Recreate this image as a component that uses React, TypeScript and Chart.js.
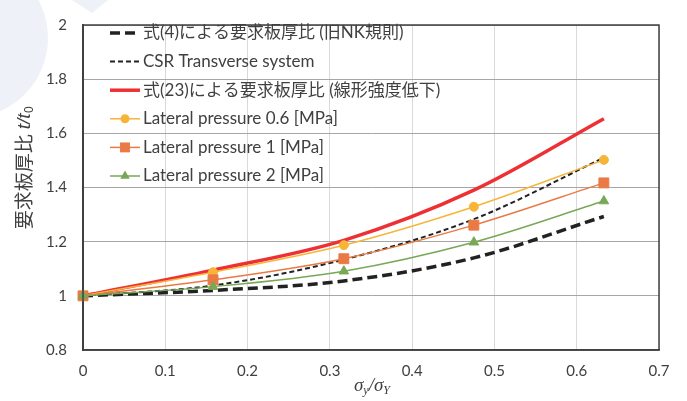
import React, { useEffect, useRef } from "react";
import { Chart, registerables } from "chart.js";

Chart.register(...registerables);

// ---- data ----
const sigmaRatio = [0, 0.158, 0.317, 0.475, 0.633];
const oldNK = [1.0, 1.02, 1.055, 1.14, 1.293];
const csrTransverse = [1.0, 1.038, 1.134, 1.283, 1.51];
const eq23 = [1.0, 1.095, 1.205, 1.39, 1.654];
const pressure06 = [1.0, 1.087, 1.187, 1.329, 1.502];
const pressure1 = [1.0, 1.059, 1.137, 1.261, 1.417];
const pressure2 = [1.0, 1.034, 1.091, 1.198, 1.35];

const seriesLabels = [
  "式(4)による要求板厚比 (旧NK規則)",
  "CSR Transverse system",
  "式(23)による要求板厚比 (線形強度低下)",
  "Lateral pressure 0.6 [MPa]",
  "Lateral pressure 1 [MPa]",
  "Lateral pressure 2 [MPa]",
];

const xMin = 0, xMax = 0.7, xStep = 0.1;
const yMin = 0.8, yMax = 2, yStep = 0.2;

const FONT = "Lato, 'Noto Sans CJK JP', sans-serif";
const TEXT = "#404040";

const pts = (ys: number[]) => ys.map((y, i) => ({ x: sigmaRatio[i], y }));

function drawMarker(ctx: CanvasRenderingContext2D, style: string, x: number, y: number, r: number) {
  ctx.beginPath();
  if (style === "circle") {
    ctx.arc(x, y, r, 0, Math.PI * 2);
  } else if (style === "rect") {
    const s = Math.SQRT1_2 * r;
    ctx.rect(x - s, y - s, 2 * s, 2 * s);
  } else if (style === "triangle") {
    ctx.moveTo(x, y - r);
    ctx.lineTo(x + Math.sin((2 * Math.PI) / 3) * r, y - Math.cos((2 * Math.PI) / 3) * r);
    ctx.lineTo(x + Math.sin((4 * Math.PI) / 3) * r, y - Math.cos((4 * Math.PI) / 3) * r);
    ctx.closePath();
  }
  ctx.fill();
}

const decorPlugin = {
  id: "decor",
  beforeDraw(chart: any) {
    const ctx = chart.ctx;
    ctx.save();
    ctx.fillStyle = "#ffffff";
    ctx.fillRect(0, 0, chart.width, chart.height);
    ctx.fillStyle = "#EEF1F8";
    ctx.beginPath();
    ctx.arc(-32, 38, 80, 0, Math.PI * 2);
    ctx.fill();
    ctx.beginPath();
    ctx.moveTo(72, 0);
    ctx.lineTo(108, 0);
    ctx.lineTo(92, 13);
    ctx.closePath();
    ctx.fill();
    ctx.restore();
  },
  afterDraw(chart: any) {
    const ctx = chart.ctx;
    const a = chart.chartArea;
    ctx.save();
    // frame
    ctx.strokeStyle = "#404040";
    ctx.lineWidth = 1.5;
    ctx.strokeRect(a.left, a.top, a.right - a.left, a.bottom - a.top);

    // legend
    const ds = chart.data.datasets;
    for (let i = 0; i < ds.length; i++) {
      const d = ds[i];
      const y = 33 + i * 28.6;
      ctx.save();
      ctx.strokeStyle = d.borderColor;
      ctx.lineWidth = d.borderWidth;
      ctx.setLineDash(d.borderDash || []);
      ctx.beginPath();
      ctx.moveTo(110, y);
      ctx.lineTo(140, y);
      ctx.stroke();
      ctx.setLineDash([]);
      if (d.pointRadius > 0) {
        ctx.fillStyle = d.pointBackgroundColor;
        drawMarker(ctx, d.pointStyle, 125, y, d.pointRadius);
      }
      ctx.fillStyle = TEXT;
      ctx.font = `17px ${FONT}`;
      ctx.textBaseline = "middle";
      ctx.textAlign = "left";
      ctx.fillText(d.label, 143, y);
      ctx.restore();
    }

    // y title
    ctx.save();
    ctx.translate(25, 168);
    ctx.rotate(-Math.PI / 2);
    ctx.fillStyle = TEXT;
    ctx.textBaseline = "middle";
    const f1 = `19px ${FONT}`;
    const f2 = `italic 19px 'Liberation Sans', Arial, sans-serif`;
    const f3 = `12px 'Liberation Sans', Arial, sans-serif`;
    const p1 = "要求板厚比 ";
    const p2 = "t/t";
    const p3 = "0";
    ctx.font = f1; const w1 = ctx.measureText(p1).width;
    ctx.font = f2; const w2 = ctx.measureText(p2).width;
    ctx.font = f3; const w3 = ctx.measureText(p3).width;
    let x0 = -(w1 + w2 + w3) / 2;
    ctx.textAlign = "left";
    ctx.font = f1; ctx.fillText(p1, x0, 0); x0 += w1;
    ctx.font = f2; ctx.fillText(p2, x0, 0); x0 += w2;
    ctx.font = f3; ctx.fillText(p3, x0 + 0.5, 5);
    ctx.restore();

    // x title
    ctx.save();
    ctx.fillStyle = TEXT;
    ctx.textBaseline = "alphabetic";
    ctx.textAlign = "left";
    const g1 = `italic 19px 'Liberation Serif', 'DejaVu Serif', serif`;
    const g2 = `italic 12px 'Liberation Serif', 'DejaVu Serif', serif`;
    const parts: [string, string, number][] = [
      ["σ", g1, 0],
      ["y", g2, 3],
      ["/σ", g1, 0],
      ["Y", g2, 3],
    ];
    let total = 0;
    for (const [t, f] of parts) { ctx.font = f; total += ctx.measureText(t).width; }
    let xx = 372 - total / 2;
    const base = 391;
    for (const [t, f, dy] of parts) {
      ctx.font = f;
      ctx.fillText(t, xx, base + dy);
      xx += ctx.measureText(t).width;
    }
    ctx.restore();
    ctx.restore();
  },
};

const fmt = (v: number) => String(Math.round(v * 10) / 10);

export default function App() {
  const ref = useRef<HTMLCanvasElement | null>(null);
  useEffect(() => {
    if (!ref.current) return;
    const lineBase = {
      cubicInterpolationMode: "monotone" as const,
      clip: false as any,
      pointBorderWidth: 1,
    };
    const chart = new Chart(ref.current, {
      type: "line",
      data: {
        datasets: [
          {
            ...lineBase,
            label: seriesLabels[0],
            data: pts(oldNK),
            borderColor: "#222222",
            borderWidth: 3.5,
            borderDash: [10, 5],
            pointRadius: 0,
            order: 6,
          },
          {
            ...lineBase,
            label: seriesLabels[1],
            data: pts(csrTransverse),
            borderColor: "#222222",
            borderWidth: 2,
            borderDash: [5, 3],
            pointRadius: 0,
            order: 5,
          },
          {
            ...lineBase,
            label: seriesLabels[2],
            data: pts(eq23),
            borderColor: "#EE3035",
            borderWidth: 3.5,
            pointRadius: 0,
            order: 4,
          },
          {
            ...lineBase,
            label: seriesLabels[3],
            data: pts(pressure06),
            borderColor: "#F7B538",
            borderWidth: 1.5,
            pointStyle: "circle",
            pointRadius: 4.5,
            pointBackgroundColor: "#F7B538",
            pointBorderColor: "#F7B538",
            order: 3,
          },
          {
            ...lineBase,
            label: seriesLabels[4],
            data: pts(pressure1),
            borderColor: "#E97A45",
            borderWidth: 1.5,
            pointStyle: "rect",
            pointRadius: 7,
            pointBackgroundColor: "#E97A45",
            pointBorderColor: "#E97A45",
            order: 2,
          },
          {
            ...lineBase,
            label: seriesLabels[5],
            data: pts(pressure2),
            borderColor: "#78A856",
            borderWidth: 1.5,
            pointStyle: "triangle",
            pointRadius: 5.5,
            pointBackgroundColor: "#78A856",
            pointBorderColor: "#78A856",
            order: 1,
          },
        ] as any,
      },
      options: {
        responsive: false,
        animation: false,
        devicePixelRatio: 1,
        layout: { padding: { top: 13, right: 28, left: 0, bottom: 0 } },
        plugins: {
          legend: { display: false },
          tooltip: { enabled: false },
        },
        scales: {
          x: {
            type: "linear",
            min: xMin,
            max: xMax,
            ticks: {
              stepSize: xStep,
              callback: (v: any) => fmt(Number(v)),
              font: { family: FONT, size: 15 },
              color: TEXT,
              padding: 12,
              maxRotation: 0,
            },
            grid: { color: "#D9D9D9", lineWidth: 1, drawTicks: false },
            border: { display: true, color: "#404040", width: 1.5 },
            afterFit: (s: any) => { s.height = 51; },
          },
          y: {
            type: "linear",
            min: yMin,
            max: yMax,
            ticks: {
              stepSize: yStep,
              callback: (v: any) => fmt(Number(v)),
              font: { family: FONT, size: 15 },
              color: TEXT,
              padding: 16,
            },
            grid: { color: "#A6A6A6", lineWidth: 1, drawTicks: false },
            border: { display: true, color: "#404040", width: 2 },
            afterFit: (s: any) => { s.width = 83; },
          },
        },
      } as any,
      plugins: [decorPlugin],
    });
    return () => chart.destroy();
  }, []);
  return (
    <div style={{ position: "fixed", left: 0, top: 0, width: 687, height: 401, background: "#fff" }}>
      <canvas ref={ref} width={687} height={401} style={{ display: "block", width: 687, height: 401 }} />
    </div>
  );
}
